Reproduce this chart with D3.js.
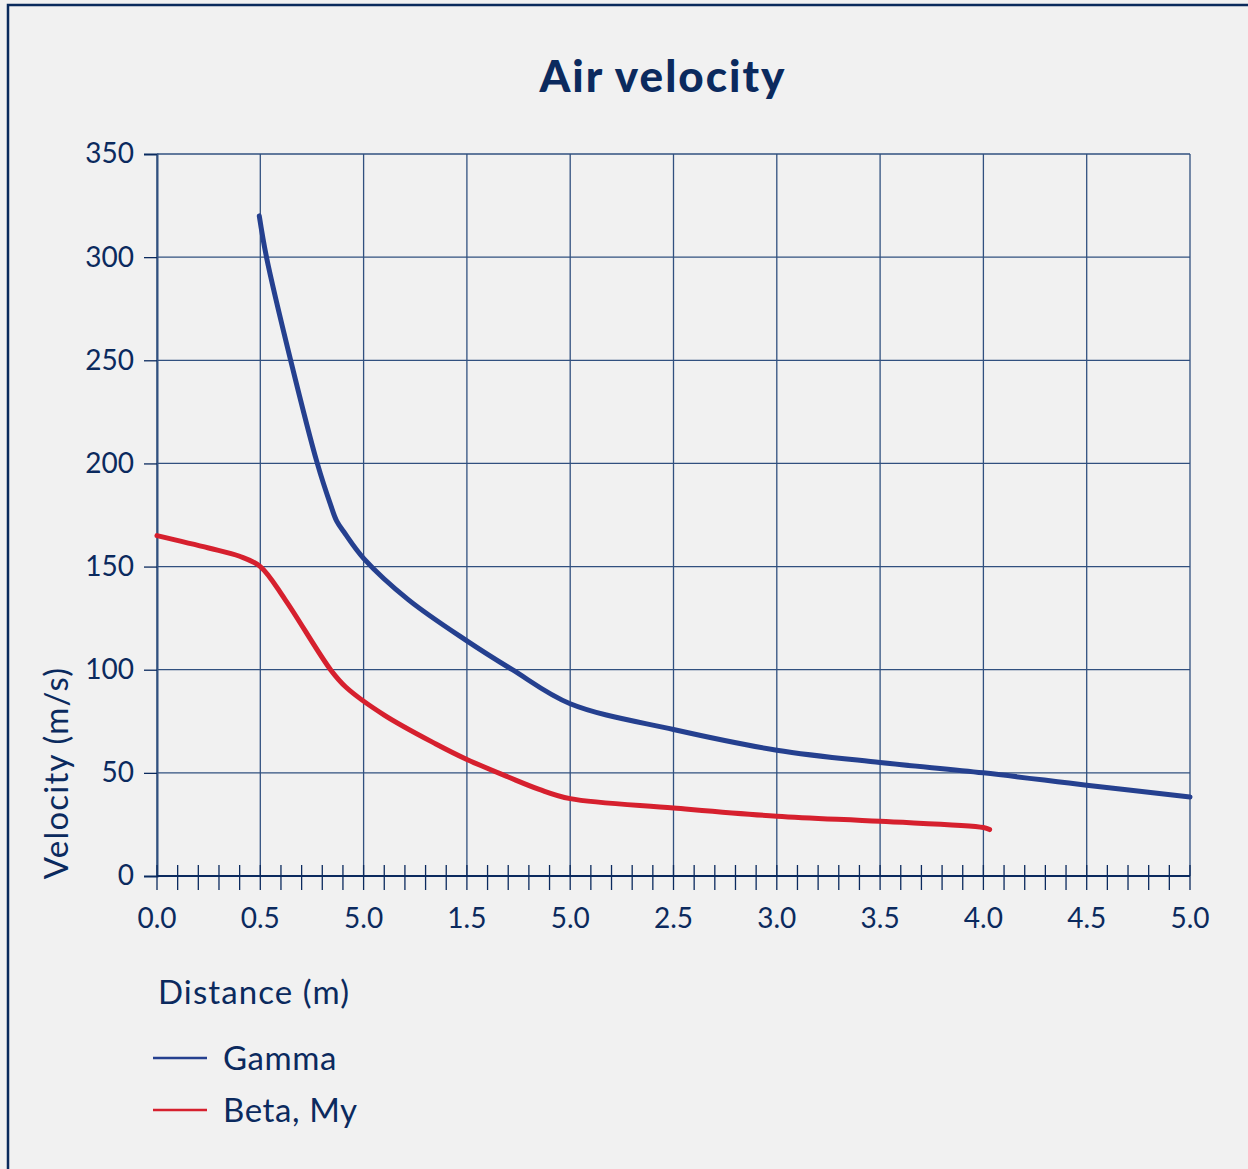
<!DOCTYPE html>
<html>
<head>
<meta charset="utf-8">
<script src="https://cdn.jsdelivr.net/npm/d3@7"></script>
<style>
  body { margin: 0; background: #f1f1f1; }
  svg { display: block; font-family: Lato, "Open Sans", sans-serif; }
</style>
</head>
<body>
<div id="chart"></div>
<script>
// data
var gammaX = [0.495, 0.53, 0.647, 0.776, 0.84, 0.87, 0.91, 1.0, 1.216, 1.5, 1.72, 2.0, 2.5, 3.0, 3.5, 4.0, 4.5, 5.0];
var gammaY = [320, 300, 250, 200, 180, 172, 166, 154, 134, 114, 100, 83.5, 71, 61, 55, 50, 44, 38.3];

var betaX = [0, 0.25, 0.4, 0.5, 0.62, 0.84, 0.915, 1.1, 1.35, 1.5, 1.7, 1.85, 2.0, 2.5, 3.0, 3.5, 4.0, 4.03];
var betaY = [165, 159, 155, 150, 134, 100, 91.5, 78, 64, 56.5, 48, 42, 37.5, 33, 29, 26.5, 23.5, 22.5];

// tick labels exactly as printed on the original
var xTicks = [0, 0.5, 1, 1.5, 2, 2.5, 3, 3.5, 4, 4.5, 5];
var xTickLabels = ["0.0", "0.5", "5.0", "1.5", "5.0", "2.5", "3.0", "3.5", "4.0", "4.5", "5.0"];
var yTicks = [0, 50, 100, 150, 200, 250, 300, 350];

var seriesNames = ["Gamma", "Beta, My"];
var seriesColors = ["#25408f", "#d6202e"];

var navy = "#0b2a5e",
    gridColor = "#31507f";

var W = 1248, H = 1169;
var margin = {top: 154, left: 157},
    width = 1190 - 157,
    height = 876 - 154;

var svg = d3.select("#chart").append("svg")
    .attr("width", W)
    .attr("height", H);

svg.append("rect")
    .attr("width", W).attr("height", H)
    .attr("fill", "#f1f1f1");

// frame (only top and left edges are visible in the picture)
svg.append("path")
    .attr("d", "M8," + H + "V5H" + W)
    .attr("fill", "none")
    .attr("stroke", "#0a2a5c")
    .attr("stroke-width", 2.5);

svg.append("text")
    .attr("x", 663)
    .attr("y", 92)
    .attr("text-anchor", "middle")
    .attr("fill", navy)
    .style("font-size", "44px")
    .style("font-weight", "900")
    .style("letter-spacing", "2px")
    .text("Air velocity");

var g = svg.append("g")
    .attr("transform", "translate(" + margin.left + "," + margin.top + ")");

var x = d3.scaleLinear().domain([0, 5]).range([0, width]);
var y = d3.scaleLinear().domain([0, 350]).range([height, 0]);

// grid
g.selectAll(".vgrid")
    .data(xTicks)
  .enter().append("line")
    .attr("x1", function(d) { return x(d); })
    .attr("x2", function(d) { return x(d); })
    .attr("y1", 0).attr("y2", height)
    .attr("stroke", gridColor)
    .attr("stroke-width", 1.3);

g.selectAll(".hgrid")
    .data(yTicks)
  .enter().append("line")
    .attr("x1", 0).attr("x2", width)
    .attr("y1", function(d) { return y(d); })
    .attr("y2", function(d) { return y(d); })
    .attr("stroke", gridColor)
    .attr("stroke-width", 1.3);

// y axis
var yAxis = d3.axisLeft(y)
    .tickValues(yTicks)
    .tickSize(13)
    .tickPadding(10);

var yg = g.append("g").call(yAxis);
yg.select(".domain").attr("stroke", gridColor).attr("stroke-width", 2);
yg.selectAll(".tick line").attr("stroke", navy).attr("stroke-width", 1.3);
yg.selectAll(".tick text")
    .attr("fill", navy)
    .style("font-size", "28px")
    .style("font-family", "Lato, sans-serif");

// x axis: minor ticks every 0.1 crossing the axis
var minor = d3.range(0, 51).map(function(i) { return i / 10; });
var xg = g.append("g").attr("transform", "translate(0," + height + ")");
xg.append("line")
    .attr("x1", 0).attr("x2", width)
    .attr("stroke", navy).attr("stroke-width", 2);
xg.selectAll(".minor")
    .data(minor)
  .enter().append("line")
    .attr("x1", function(d) { return x(d); })
    .attr("x2", function(d) { return x(d); })
    .attr("y1", -11).attr("y2", 14)
    .attr("stroke", navy)
    .attr("stroke-width", 1.3);
xg.selectAll(".lbl")
    .data(xTicks)
  .enter().append("text")
    .attr("x", function(d) { return x(d); })
    .attr("y", 52)
    .attr("text-anchor", "middle")
    .attr("fill", navy)
    .style("font-size", "28px")
    .text(function(d, i) { return xTickLabels[i]; });

// lines
var line = d3.line()
    .x(function(d) { return x(d[0]); })
    .y(function(d) { return y(d[1]); })
    .curve(d3.curveCatmullRom.alpha(0.5));

var series = [d3.zip(gammaX, gammaY), d3.zip(betaX, betaY)];

g.selectAll(".series")
    .data(series)
  .enter().append("path")
    .attr("d", line)
    .attr("fill", "none")
    .attr("stroke", function(d, i) { return seriesColors[i]; })
    .attr("stroke-width", 5)
    .attr("stroke-linecap", "round")
    .attr("stroke-linejoin", "round");

// axis titles
svg.append("text")
    .attr("transform", "translate(68,773) rotate(-90)")
    .attr("text-anchor", "middle")
    .attr("fill", navy)
    .style("font-size", "33px")
    .style("letter-spacing", "1.2px")
    .text("Velocity (m/s)");

svg.append("text")
    .attr("x", 158)
    .attr("y", 1004)
    .attr("fill", navy)
    .style("font-size", "33px")
    .style("letter-spacing", "1.1px")
    .text("Distance (m)");

// legend
var legend = svg.selectAll(".legend")
    .data(seriesNames)
  .enter().append("g")
    .attr("transform", function(d, i) { return "translate(153," + (1058 + i * 52) + ")"; });

legend.append("line")
    .attr("x1", 0).attr("x2", 54)
    .attr("stroke", function(d, i) { return seriesColors[i]; })
    .attr("stroke-width", 2.5);

legend.append("text")
    .attr("x", 70)
    .attr("y", 12)
    .attr("fill", navy)
    .style("font-size", "33px")
    .style("letter-spacing", "0.6px")
    .text(function(d) { return d; });
</script>
</body>
</html>
